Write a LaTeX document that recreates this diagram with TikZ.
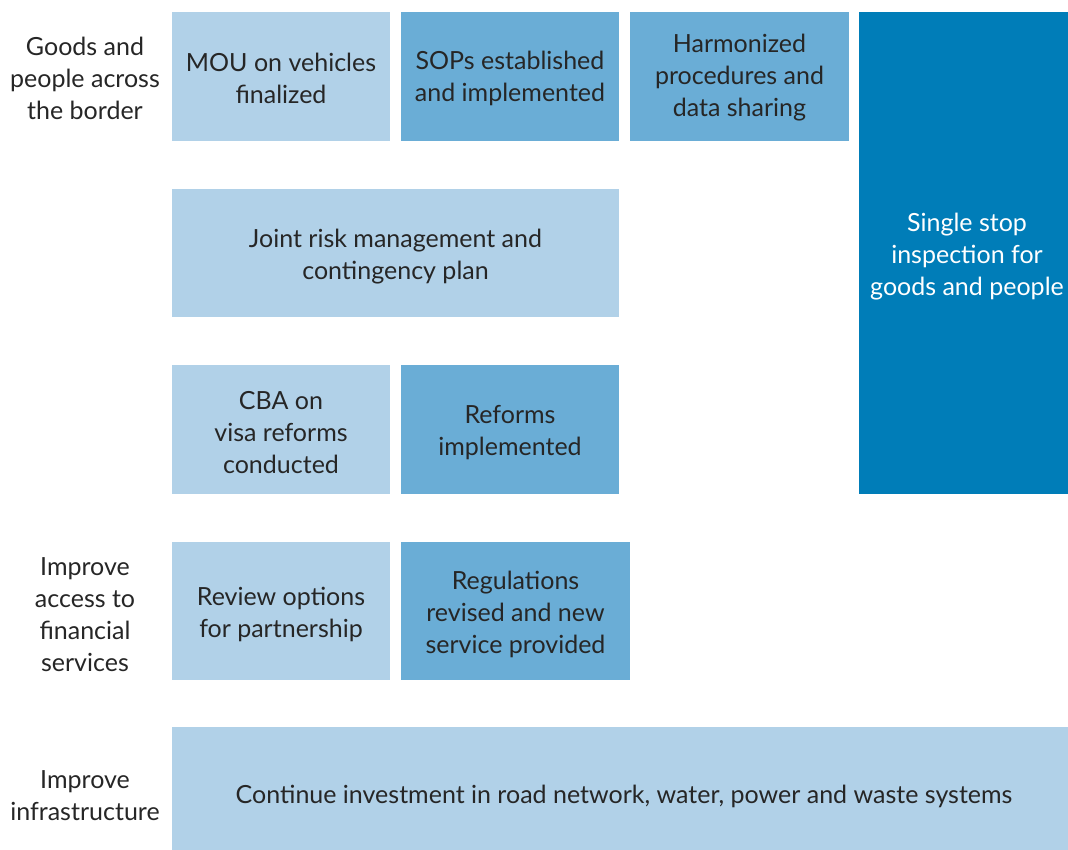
\documentclass[tikz,border=0pt]{standalone}
\usepackage{fontspec}
\setmainfont{Lato}
\definecolor{lightb}{HTML}{B1D1E8}
\definecolor{midb}{HTML}{6AADD6}
\definecolor{darkb}{HTML}{007DB8}
\definecolor{txt}{HTML}{262626}
\begin{document}
\begin{tikzpicture}[x=1pt,y=-1pt,
  every node/.style={font=\fontsize{25}{32}\selectfont, text=txt, align=center, inner sep=0pt, outer sep=0pt},
  lbox/.style={fill=lightb},
  mbox/.style={fill=midb},
  dbox/.style={fill=darkb}]
\useasboundingbox (0,0) rectangle (1068,850);
% boxes
\node[lbox, minimum width=218pt, minimum height=129pt] (mou) at (281,76.5) {};
\node[mbox, minimum width=218pt, minimum height=129pt] (sop) at (510,76.5) {};
\node[mbox, minimum width=219pt, minimum height=129pt] (harm) at (739.5,76.5) {};
\node[dbox, minimum width=209pt, minimum height=482pt] (single) at (963.5,253) {};
\node[lbox, minimum width=447pt, minimum height=128pt] (risk) at (395.5,253) {};
\node[lbox, minimum width=218pt, minimum height=129pt] (cba) at (281,429.5) {};
\node[mbox, minimum width=218pt, minimum height=129pt] (ref) at (510,429.5) {};
\node[lbox, minimum width=218pt, minimum height=138pt] (rev) at (281,611) {};
\node[mbox, minimum width=229pt, minimum height=138pt] (reg) at (515.5,611) {};
\node[lbox, minimum width=896pt, minimum height=123pt] (inv) at (620,788.5) {};
% texts
\node (mout) at (281,78) {MOU on vehicles\\finalized};
\node (sopt) at (510,78) {SOPs established\\and implemented};
\node (harmt) at (739.5,78) {Harmonized\\procedures and\\data sharing};
\node[text=white] (singlet) at (967,256.5) {Single stop\\inspection for\\goods and people};
\node (riskt) at (395.5,256.5) {Joint risk management and\\contingency plan};
\node (cbat) at (281,432.5) {CBA on\\visa reforms\\conducted};
\node (reft) at (510,432.5) {Reforms\\implemented};
\node (revt) at (281,614.5) {Review options\\for partnership};
\node (regt) at (515.5,614.5) {Regulations\\revised and new\\service provided};
\node (invt) at (624,796) {Continue investment in road network, water, power and waste systems};
% row labels
\node (l1) at (85,78) {Goods and\\people across\\the border};
\node (l2) at (85,614.5) {Improve\\access to\\financial\\services};
\node (l3) at (85,796) {Improve\\infrastructure};
\end{tikzpicture}
\end{document}
